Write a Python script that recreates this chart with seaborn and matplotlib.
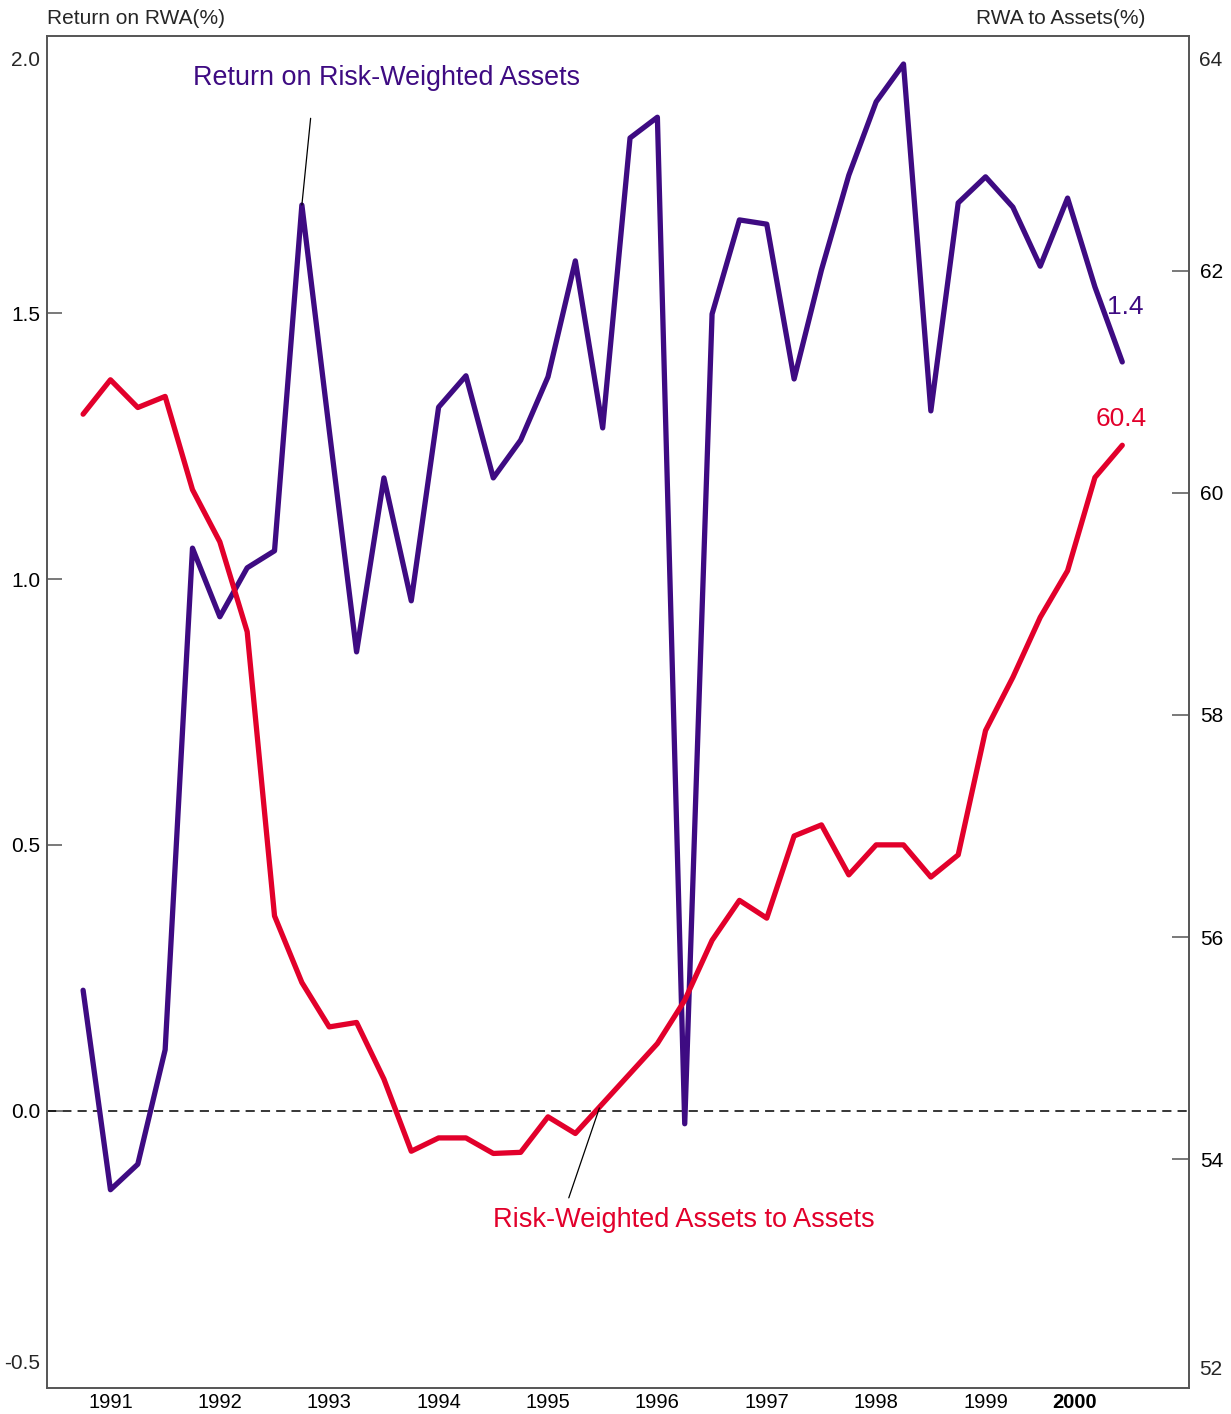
import numpy as np
import pandas as pd
import matplotlib
matplotlib.use("Agg")
import matplotlib.pyplot as plt
import seaborn as sns

# ---------------- data ----------------
quarters = pd.period_range("1991Q1", "2000Q3", freq="Q")
return_on_rwa = [0.227, -0.148, -0.100, 0.115, 1.058, 0.929, 1.021, 1.053,
                 1.703, 1.280, 0.863, 1.190, 0.959, 1.323, 1.382, 1.190,
                 1.261, 1.380, 1.598, 1.284, 1.829, 1.868, -0.024, 1.498,
                 1.675, 1.667, 1.376, 1.581, 1.759, 1.897, 1.968, 1.316,
                 1.707, 1.756, 1.699, 1.588, 1.716, 1.549, 1.408]
rwa_to_assets = [60.71, 61.02, 60.77, 60.87, 60.03, 59.56, 58.75, 56.19,
                 55.59, 55.19, 55.23, 54.72, 54.07, 54.19, 54.19, 54.05,
                 54.06, 54.38, 54.23, 54.50, 54.77, 55.04, 55.43, 55.97,
                 56.33, 56.17, 56.91, 57.01, 56.56, 56.83, 56.83, 56.54,
                 56.74, 57.86, 58.34, 58.88, 59.30, 60.14, 60.43]
year_labels = ["1991", "1992", "1993", "1994", "1995", "1996", "1997",
               "1998", "1999", "2000"]
left_ticks = [0.0, 0.5, 1.0, 1.5]
right_ticks = [54, 56, 58, 60, 62]

# quarter-end position in fractional years
xpos = np.array([q.year + q.quarter / 4 for q in quarters])
df = pd.DataFrame({"x": xpos, "ret": return_on_rwa, "rwa": rwa_to_assets})

PURPLE = "#3E0B82"
RED = "#E2002B"
SPINE = "#555555"

sns.set_style("white")
plt.rcParams["font.family"] = ["Liberation Sans", "DejaVu Sans"]

W, H = 1231, 1414
fig = plt.figure(figsize=(W / 100, H / 100), dpi=100)
L, R, T, B = 47, 1189, 36, 1388
ax = fig.add_axes([L / W, 1 - B / H, (R - L) / W, (B - T) / H])
ax2 = ax.twinx()

sns.lineplot(data=df, x="x", y="ret", ax=ax, color=PURPLE, linewidth=3.8,
             legend=False, solid_capstyle="round")
sns.lineplot(data=df, x="x", y="rwa", ax=ax2, color=RED, linewidth=3.8,
             legend=False, solid_capstyle="round")

ax.set_xlim(1990.92, 2001.36)
ax.set_ylim(-0.5207, 2.0207)
ax2.set_ylim(51.937, 64.117)

ax.axhline(0, color="black", lw=1.1, ls=(0, (6, 4)), zorder=1)

for a in (ax, ax2):
    a.set_xlabel("")
    a.set_ylabel("")
    for s in a.spines.values():
        s.set_visible(True)
        s.set_color(SPINE)
        s.set_linewidth(1.2)

# x ticks: quarter minor ticks, long ticks at year boundaries
ax.set_xticks(np.arange(1992, 2001))
ax.set_xticks(xpos, minor=True)
ax.tick_params(axis="x", which="major", direction="in", length=14,
               width=1.1, color=SPINE, labelbottom=False)
ax.tick_params(axis="x", which="minor", direction="in", length=9.5,
               width=1.1, color=SPINE)
ax2.tick_params(axis="x", which="both", bottom=False, labelbottom=False)

xtrans = ax.get_xaxis_transform()
year_x = [int(y) + 0.5 for y in year_labels[:-1]] + [2000.31]
for lab, xx in zip(year_labels, year_x):
    ax.text(xx, -14 / (B - T), lab, transform=xtrans, ha="center",
            va="center", fontsize=14.5, color="black",
            fontweight="bold" if lab == "2000" else "normal")

# left y
ax.set_yticks(left_ticks)
ax.set_yticklabels([f"{v:.1f}" for v in left_ticks])
ax.tick_params(axis="y", direction="in", length=11, width=1.1, color=SPINE,
               labelsize=15, pad=5, labelcolor="black", left=True)
ax.text(-7 / (R - L), 1.975, "2.0", transform=ax.get_yaxis_transform(),
        ha="right", va="center", fontsize=15)
ax.text(-7 / (R - L), -0.475, "-0.5", transform=ax.get_yaxis_transform(),
        ha="right", va="center", fontsize=15)

# right y
ax2.set_yticks(right_ticks)
ax2.set_yticklabels([f"{v}" for v in right_ticks])
ax2.tick_params(axis="y", direction="in", length=12, width=1.1, color=SPINE,
                labelsize=15, pad=8, labelcolor="black", right=True)
ax2.text(1 + 10 / (R - L), 63.9, "64", transform=ax2.get_yaxis_transform(),
         ha="left", va="center", fontsize=15)
ax2.text(1 + 10 / (R - L), 52.1, "52", transform=ax2.get_yaxis_transform(),
         ha="left", va="center", fontsize=15)

# axis titles
fig.text(L / W, 1 - 18 / H, "Return on RWA(%)", ha="left", va="center",
         fontsize=15)
fig.text(1145 / W, 1 - 18 / H, "RWA to Assets(%)", ha="right", va="center",
         fontsize=15)

# series annotations
peak_i = 8
ax.annotate("", xy=(xpos[peak_i], return_on_rwa[peak_i]),
            xytext=(1993.33, 1.866),
            arrowprops=dict(arrowstyle="-", color="black", lw=0.9,
                            shrinkA=0, shrinkB=0))
ax.text(1992.255, 1.942, "Return on Risk-Weighted Assets", color=PURPLE,
        fontsize=19.4, ha="left", va="center")
ax2.annotate("", xy=(1995.97, 54.46), xytext=(1995.69, 53.65),
             arrowprops=dict(arrowstyle="-", color="black", lw=0.9,
                             shrinkA=0, shrinkB=0))
ax2.text(1995.0, 53.45, "Risk-Weighted Assets to Assets", color=RED,
         fontsize=19.5, ha="left", va="center")

# end-value labels
ax.text(2000.78, 1.511, f"{return_on_rwa[-1]:.1f}", color=PURPLE,
        fontsize=19, ha="center", va="center")
ax2.text(2000.74, 60.667, f"{rwa_to_assets[-1]:.1f}", color=RED,
         fontsize=19, ha="center", va="center")

fig.savefig("out.png", dpi=100)
